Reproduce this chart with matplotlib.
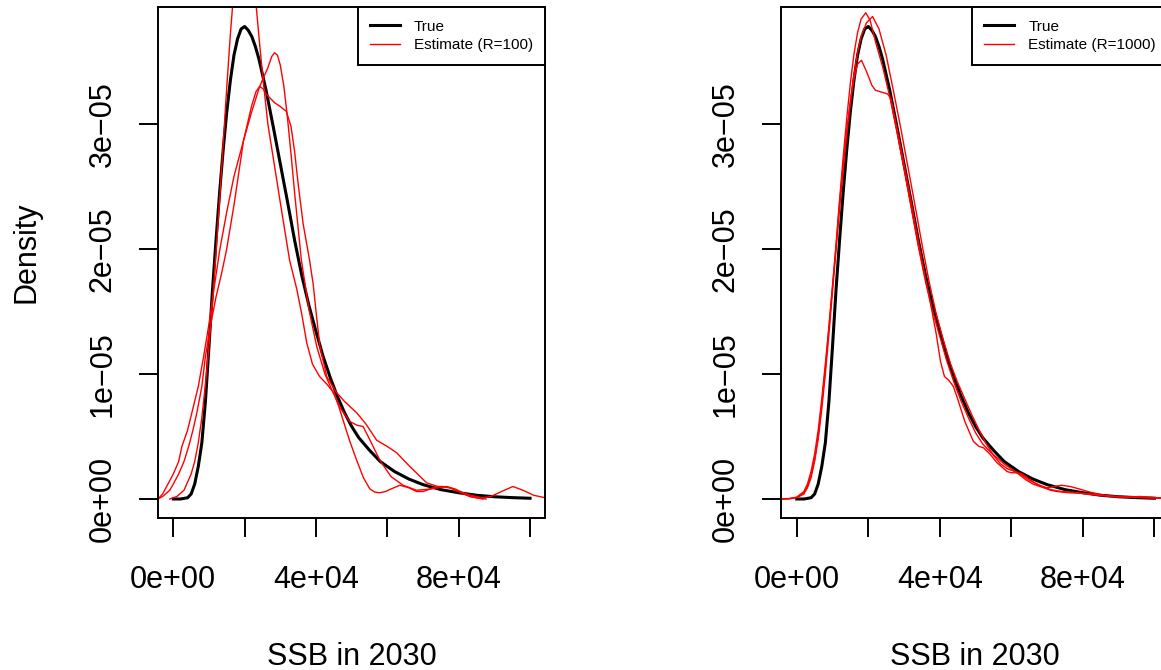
import matplotlib
matplotlib.use('Agg')
import matplotlib.pyplot as plt

plt.rcParams['font.family'] = ['Liberation Sans', 'DejaVu Sans']

# SSB in thousands, density in units of 1e-5

# true density (same in both panels)
true_x = [0, 2, 4, 5, 6, 7, 8, 9, 10, 11, 12, 13, 14, 15, 16, 17, 18, 19, 20, 21, 22, 23, 24,
          26, 28, 30, 32, 34, 36, 38, 40, 42, 44, 46, 48, 50, 52, 55, 58, 62, 66, 70, 75,
          80, 85, 90, 95, 100]
true_y = [0, 0, 0.01, 0.04, 0.12, 0.26, 0.45, 0.78, 1.22, 1.68, 2.08, 2.46, 2.8, 3.1, 3.35,
          3.55, 3.68, 3.76, 3.78, 3.75, 3.7, 3.62, 3.52, 3.27, 2.98, 2.68, 2.38, 2.07, 1.79,
          1.55, 1.34, 1.14, 0.97, 0.82, 0.69, 0.58, 0.49, 0.39, 0.30, 0.22, 0.16, 0.115,
          0.075, 0.05, 0.03, 0.018, 0.011, 0.006]

# estimates, R=100
r100_a_x = [-1, 1, 3, 5, 6, 7, 8, 9, 10, 11, 12, 13, 14, 15, 16, 17, 18, 19, 20, 21, 22, 23,
            24, 25, 26.5, 28.4, 30.5, 32.6, 34.6, 36, 37.4, 39, 41, 43, 45, 46.5, 47.6, 49.5,
            51.4, 53.3, 55.1, 56.5, 57.9, 59.5, 61, 63.5, 66, 68.2, 70, 72, 74, 75.6, 77.5,
            80, 83.1, 85, 86.8]
r100_a_y = [0.0, 0.02, 0.07, 0.2, 0.3, 0.45, 0.65, 0.92, 1.22, 1.58, 1.98, 2.4, 2.85, 3.3,
            3.72, 4.08, 4.35, 4.52, 4.56, 4.47, 4.28, 4.02, 3.7, 3.4, 3.0, 2.66, 2.28, 1.91,
            1.68, 1.48, 1.25, 1.08, 0.98, 0.92, 0.85, 0.73, 0.63, 0.46, 0.31, 0.17, 0.08,
            0.055, 0.05, 0.06, 0.08, 0.11, 0.09, 0.06, 0.06, 0.08, 0.1, 0.1, 0.09, 0.06, 0.02,
            0.01, 0.0]
r100_b_x = [-4.3, -3, -1.5, 0, 1.5, 2.4, 4, 5.2, 7, 8.5, 10, 11.5, 13, 15, 17, 19.7, 22, 24.2,
            26.5, 27.6, 28.4, 29.2, 30, 31, 32, 33, 34, 35.9, 38, 40.2, 42.5, 44.8, 47, 49.5,
            51.5, 53.2, 55.5, 57.9, 61, 64.4, 68.2, 72, 76.6, 79, 81.2, 84, 86.8, 89, 92,
            95.2, 98, 101, 104.2]
r100_b_y = [0.0, 0.04, 0.12, 0.2, 0.3, 0.42, 0.55, 0.69, 0.9, 1.14, 1.4, 1.7, 1.99, 2.3, 2.58,
            2.87, 3.1, 3.3, 3.45, 3.54, 3.57, 3.55, 3.47, 3.3, 3.05, 2.76, 2.45, 1.91, 1.52,
            1.22, 1.0, 0.85, 0.72, 0.62, 0.59, 0.58, 0.45, 0.31, 0.18, 0.11, 0.07, 0.08,
            0.10, 0.08, 0.05, 0.025, 0.01, 0.02, 0.06, 0.10, 0.07, 0.03, 0.01]
r100_c_x = [-4.3, -3, -1, 0, 1.5, 3, 4.3, 5.5, 6.6, 8, 9.0, 10.5, 12, 13.5, 14.9, 17, 19.7,
            22, 23.2, 24.2, 25.2, 26, 28.4, 30, 31.7, 33, 34, 35, 36.4, 38.2, 39.2, 40.2, 41.1,
            43, 45.8, 48, 51.4, 54, 57, 60, 62.6, 66.3, 71, 74, 77.5, 80, 83.1, 85, 87.7]
r100_c_y = [0.0, 0.02, 0.07, 0.12, 0.2, 0.3, 0.42, 0.55, 0.69, 0.9, 1.14, 1.4, 1.62, 1.8,
            1.99, 2.35, 2.87, 3.15, 3.26, 3.30, 3.28, 3.24, 3.17, 3.14, 3.10, 2.98, 2.78,
            2.52, 2.2, 1.91, 1.72, 1.45, 1.22, 0.98, 0.85, 0.78, 0.69, 0.6, 0.47, 0.42,
            0.37, 0.26, 0.13, 0.1, 0.09, 0.06, 0.02, 0.01, 0.0]

# estimates, R=1000
r1000_a_x = [-4.3, -2, 0, 2, 3, 4, 5, 6, 7, 8, 9, 10, 11, 12, 13, 14, 15, 16, 17, 18.1, 19.5,
             21, 22, 23.1, 24.3, 25.4, 26.4, 28, 30, 32, 34, 36, 37.5, 39, 40.2, 41.3, 42.5,
             43.8, 45, 47, 49.4, 51, 52.2, 54, 56, 58.8, 60, 61.6, 63, 65, 68, 71, 74, 77,
             80, 84, 88, 92, 96, 100, 104.2]
r1000_a_y = [0.0, 0.004, 0.015, 0.06, 0.12, 0.22, 0.36, 0.55, 0.8, 1.08, 1.38, 1.7, 2.02,
             2.38, 2.68, 2.95, 3.18, 3.36, 3.48, 3.51, 3.42, 3.31, 3.27, 3.26, 3.25, 3.24,
             3.2, 2.97, 2.68, 2.38, 2.06, 1.76, 1.55, 1.32, 1.1, 0.98, 0.95, 0.9, 0.8, 0.62,
             0.46, 0.42, 0.41, 0.36, 0.29, 0.22, 0.21, 0.21, 0.19, 0.15, 0.11, 0.075, 0.06,
             0.055, 0.045, 0.03, 0.02, 0.015, 0.012, 0.008, 0.004]
r1000_b_x = [-4.3, -2, 0, 2, 3, 4, 5, 6, 7, 8, 9, 10, 11, 12, 13, 14, 15, 16, 17, 18, 19.3,
             20.5, 22, 24, 26, 28, 30, 32, 34, 36, 38, 40, 42, 44, 46, 48, 50, 52, 54, 56, 58,
             60, 62, 64, 66, 68, 70, 72, 74, 76.5, 79, 82, 85, 88, 92, 96, 100, 104.2]
r1000_b_y = [0.0, 0.003, 0.012, 0.05, 0.1, 0.19, 0.32, 0.5, 0.76, 1.05, 1.37, 1.7, 2.04,
             2.4, 2.74, 3.05, 3.33, 3.56, 3.73, 3.84, 3.89, 3.83, 3.66, 3.46, 3.22, 2.94,
             2.64, 2.33, 2.02, 1.74, 1.5, 1.3, 1.1, 0.93, 0.78, 0.65, 0.53, 0.44, 0.38, 0.33,
             0.28, 0.24, 0.2, 0.155, 0.12, 0.1, 0.09, 0.1, 0.11, 0.1, 0.08, 0.055, 0.035,
             0.02, 0.015, 0.02, 0.012, 0.005]
r1000_c_x = [-4.3, -2, 0, 2, 3, 4, 5, 6, 7, 8, 9, 10, 11, 12, 13, 14, 15, 16, 17, 18, 19.5,
             21.2, 23, 25, 27, 29, 31, 33, 35, 37, 39, 41, 43, 45, 47, 49, 51, 53, 55, 57, 59,
             61, 63, 65, 67, 69, 71, 72.8, 76, 80, 84, 88, 92, 96, 100, 104.2]
r1000_c_y = [0.0, 0.002, 0.01, 0.04, 0.09, 0.17, 0.3, 0.48, 0.72, 1.0, 1.32, 1.66, 2.0, 2.33,
             2.63, 2.92, 3.18, 3.4, 3.57, 3.7, 3.81, 3.86, 3.76, 3.55, 3.27, 2.98, 2.67, 2.36,
             2.04, 1.74, 1.48, 1.27, 1.08, 0.93, 0.8, 0.67, 0.55, 0.44, 0.35, 0.28, 0.24,
             0.22, 0.2, 0.16, 0.12, 0.09, 0.07, 0.06, 0.05, 0.045, 0.035, 0.025, 0.018,
             0.012, 0.008, 0.004]

xticks = [0, 20000, 40000, 60000, 80000, 100000]
xticklabels = ['0e+00', '', '4e+04', '', '8e+04', '']
yticks = [0, 1e-5, 2e-5, 3e-5]
yticklabels = ['0e+00', '1e\u221205', '2e\u221205', '3e\u221205']

W, H = 1161, 670
fig = plt.figure(figsize=(W / 100, H / 100), dpi=100)


def panel(left_px, xlim, ests, label):
    ax = fig.add_axes([left_px / W, (H - 518.3) / H, 387 / W, 510.8 / H])
    ax.plot([v * 1e3 for v in true_x], [v * 1e-5 for v in true_y],
            color='black', lw=2.2, label='True')
    for i, (ex, ey) in enumerate(ests):
        ax.plot([v * 1e3 for v in ex], [v * 1e-5 for v in ey], color='red', lw=1.0,
                label=label if i == 0 else None)
    ax.set_xlim(*xlim)
    ax.set_ylim(-0.1544e-5, 3.932e-5)
    ax.set_xticks(xticks)
    ax.set_xticklabels(xticklabels)
    ax.set_yticks(yticks)
    ax.set_yticklabels(yticklabels, rotation=90, va='center')
    ax.tick_params(direction='out', length=13.5, width=1.4, labelsize=22)
    ax.tick_params(axis='x', pad=20)
    ax.tick_params(axis='y', pad=15.5)
    for s in ax.spines.values():
        s.set_linewidth(1.4)
    leg = ax.legend(loc='upper right', fontsize=11, frameon=True, fancybox=False,
                    edgecolor='black', framealpha=1, borderaxespad=0,
                    handlelength=1.96, handletextpad=0.9, labelspacing=0.3,
                    borderpad=0.8)
    leg.get_frame().set_linewidth(1.4)
    return ax


panel(158, (-4290, 104190),
      [(r100_a_x, r100_a_y), (r100_b_x, r100_b_y), (r100_c_x, r100_c_y)],
      'Estimate (R=100)')
panel(781, (-4400, 103800),
      [(r1000_a_x, r1000_a_y), (r1000_b_x, r1000_b_y), (r1000_c_x, r1000_c_y)],
      'Estimate (R=1000)')

fig.text(351.5 / W, 1 - 665 / H, 'SSB in 2030', ha='center', va='baseline', fontsize=22)
fig.text(974.5 / W, 1 - 665 / H, 'SSB in 2030', ha='center', va='baseline', fontsize=22)
fig.text(26 / W, 1 - 252.5 / H, 'Density', rotation=90, ha='center', va='center', fontsize=22)

fig.savefig('out.png', dpi=100)
